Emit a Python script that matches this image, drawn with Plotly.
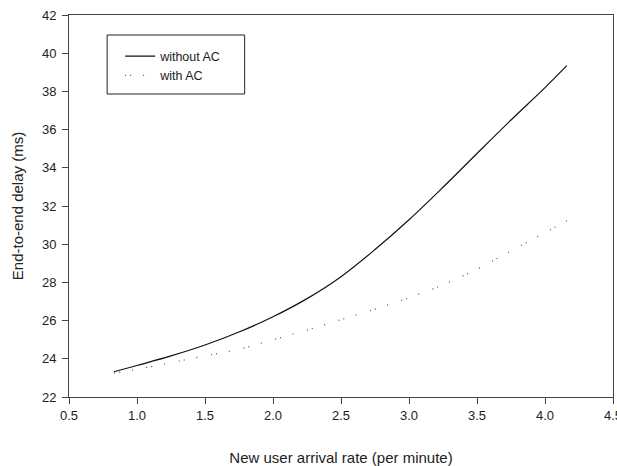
import plotly.graph_objects as go

# Data
arrival_rate = [0.83, 1.0, 1.25, 1.5, 1.75, 2.0, 2.25, 2.5, 2.75, 3.0, 3.25, 3.5, 3.75, 4.0, 4.16]
delay_without_ac = [23.32, 23.65, 24.15, 24.72, 25.4, 26.2, 27.15, 28.3, 29.72, 31.28, 32.98, 34.75, 36.5, 38.2, 39.35]
delay_with_ac = [23.25, 23.45, 23.8, 24.15, 24.5, 25.0, 25.5, 26.05, 26.6, 27.2, 27.87, 28.7, 29.65, 30.6, 31.22]

x_ticks = [0.5, 1.0, 1.5, 2.0, 2.5, 3.0, 3.5, 4.0, 4.5]
y_ticks = [22, 24, 26, 28, 30, 32, 34, 36, 38, 40, 42]

FONT = "Liberation Sans, Arial, sans-serif"
AXIS_COLOR = "#444444"

fig = go.Figure()
fig.add_trace(go.Scatter(
    x=arrival_rate, y=delay_without_ac, mode="lines", name="without AC",
    line=dict(color="#111111", width=1.2, shape="spline", smoothing=1.0),
))
fig.add_trace(go.Scatter(
    x=arrival_rate, y=delay_with_ac, mode="lines", name="with AC",
    line=dict(color="#555555", width=1.2, dash="1px,4px,1px,12px,1px,14px",
              shape="spline", smoothing=1.0),
))

# legend frame
fig.add_shape(type="rect", xref="paper", yref="paper",
              x0=0.0701, x1=0.3229, y0=0.7932, y1=0.9476,
              line=dict(color="#222222", width=1), fillcolor="rgba(0,0,0,0)")

fig.update_layout(
    width=617, height=466,
    margin=dict(l=69, r=4, t=15, b=69, autoexpand=False),
    paper_bgcolor="white", plot_bgcolor="white",
    font=dict(family=FONT, color="#222222", size=13),
    showlegend=True,
    legend=dict(x=0.094, y=0.9305, xanchor="left", yanchor="top",
                bgcolor="rgba(0,0,0,0)", borderwidth=0,
                font=dict(family=FONT, size=12.5, color="#222222")),
    xaxis=dict(
        range=[0.5, 4.5], tickvals=x_ticks, ticktext=[f"{v:.1f}" for v in x_ticks],
        showgrid=False, zeroline=False, automargin=False,
        showline=True, linecolor=AXIS_COLOR, linewidth=1, mirror=True,
        ticks="outside", ticklen=6, tickcolor=AXIS_COLOR, tickwidth=1,
        tickfont=dict(size=13), ticklabeloverflow="allow",
        title=dict(text="New user arrival rate (per minute)", font=dict(size=15), standoff=30),
    ),
    yaxis=dict(
        range=[22, 42], tickvals=y_ticks,
        showgrid=False, zeroline=False, automargin=False,
        showline=True, linecolor=AXIS_COLOR, linewidth=1, mirror=True,
        ticks="outside", ticklen=6, tickcolor=AXIS_COLOR, tickwidth=1,
        tickfont=dict(size=13), ticklabelstandoff=3,
        title=dict(text="End-to-end delay (ms)", font=dict(size=15), standoff=14),
    ),
)

fig.write_html("out.html")
